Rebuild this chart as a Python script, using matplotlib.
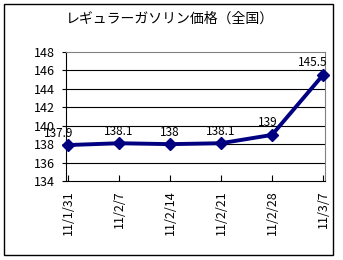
import matplotlib.pyplot as plt
from matplotlib.patches import Rectangle

plt.rcParams['font.family'] = ['Noto Sans CJK JP', 'DejaVu Sans']

# データ
dates = ["11/1/31", "11/2/7", "11/2/14", "11/2/21", "11/2/28", "11/3/7"]
prices = [137.9, 138.1, 138, 138.1, 139, 145.5]
price_labels = ["137.9", "138.1", "138", "138.1", "139", "145.5"]
yticks = [134, 136, 138, 140, 142, 144, 146, 148]

fig = plt.figure(figsize=(3.43, 2.60), dpi=100)
ax = fig.add_axes([66 / 343, 1 - 181 / 260, 259 / 343, 129 / 260])

x = list(range(len(dates)))
ax.plot(x, prices, color="#000080", linewidth=2.8, marker="D", markersize=6,
        zorder=3, clip_on=False)

# データラベル
offsets = [(-7, 4), (0, 4), (0, 4), (0, 4), (-3, 4), (-7, 4)]
for xi, yi, lab, off in zip(x, prices, price_labels, offsets):
    ax.annotate(lab, (xi, yi), xytext=off, textcoords="offset points",
                ha="center", va="bottom", fontsize=8.5, color="black")

ax.set_xlim(-0.04, 5.04)
ax.set_ylim(134, 148)
ax.set_yticks(yticks)
ax.set_yticklabels([str(v) for v in yticks], fontsize=9)
ax.set_xticks(x)
ax.set_xticklabels(dates, rotation=90, fontsize=9)
ax.tick_params(axis="y", length=3, pad=5)
ax.tick_params(axis="x", length=4, direction="in", pad=7)

for v in yticks[1:-1]:
    ax.axhline(v, color="black", linewidth=0.8, zorder=1)

ax.spines["top"].set_color("#808080")
ax.spines["right"].set_color("#808080")
ax.spines["left"].set_color("black")
ax.spines["bottom"].set_color("black")

fig.text(0.496, 1 - 19 / 260, "レギュラーガソリン価格（全国）", ha="center",
         va="center", fontsize=10)

# 外枠
fig.patches.append(Rectangle((4 / 343, 1 - 255 / 260), 329 / 343, 251 / 260,
                             transform=fig.transFigure, fill=False,
                             edgecolor="black", linewidth=1))

fig.savefig("out.png", dpi=100)
